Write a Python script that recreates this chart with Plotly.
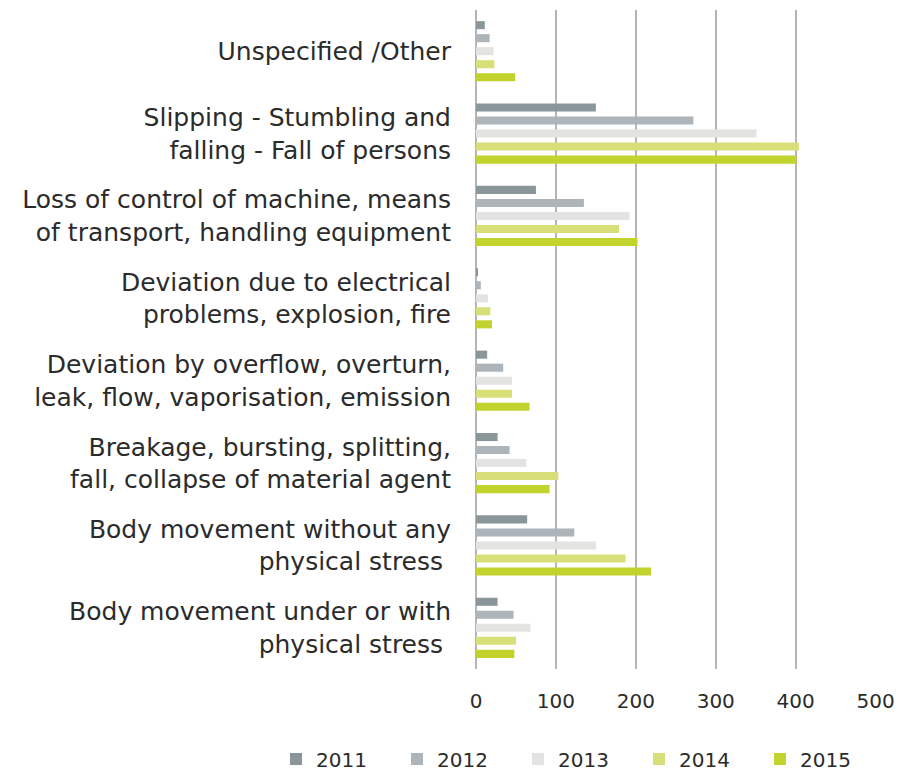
import plotly.graph_objects as go

categories = [
    "Unspecified /Other",
    "Slipping - Stumbling and<br>falling - Fall of persons",
    "Loss of control of machine, means<br>of transport, handling equipment",
    "Deviation due to electrical<br>problems, explosion, fire",
    "Deviation by overflow, overturn,<br>leak, flow, vaporisation, emission",
    "Breakage, bursting, splitting,<br>fall, collapse of material agent",
    "Body movement without any<br>physical stress ",
    "Body movement under or with<br>physical stress ",
]
years = ["2011", "2012", "2013", "2014", "2015"]
v2011 = [11, 150, 75, 2, 14, 27, 64, 27]
v2012 = [17, 272, 135, 6, 34, 42, 123, 47]
v2013 = [22, 351, 192, 15, 45, 63, 150, 68]
v2014 = [23, 404, 179, 18, 45, 103, 187, 50]
v2015 = [49, 401, 202, 20, 67, 92, 219, 48]
tick_vals = [0, 100, 200, 300, 400, 500]

series = [v2011, v2012, v2013, v2014, v2015]
colors = ["#8b969b", "#adb4ba", "#e3e3e1", "#d8df78", "#c2d32e"]

FONT = "DejaVu Sans"
# page body has an 8px margin; the figure is sized to fit the rest of the window
W, H = 894, 766
L, R, T, B = 468, 26, 2, 105
PW, PH = W - L - R, H - T - B

fig = go.Figure()
for name, vals, col in zip(years, series, colors):
    fig.add_trace(go.Bar(
        y=categories, x=vals, name=name, orientation="h",
        marker=dict(color=col, line=dict(width=0)),
    ))

fig.update_layout(
    width=W, height=H,
    paper_bgcolor="white", plot_bgcolor="white",
    margin=dict(l=L, r=R, t=T, b=B, autoexpand=False),
    barmode="group", bargap=0.21, bargroupgap=0.38,
    font=dict(family=FONT, size=20, color="#2b2b2b"),
    showlegend=True,
    legend=dict(
        orientation="h",
        x=(268 - L) / PW, xanchor="left",
        y=(H - B - 751) / PH, yanchor="middle",
        font=dict(size=20, color="#2b2b2b"), traceorder="normal",
        itemwidth=30, entrywidthmode="pixels", entrywidth=76,
        bgcolor="rgba(0,0,0,0)",
    ),
    xaxis=dict(
        range=[0, 500.5], tickvals=tick_vals, showgrid=True,
        gridcolor="#b5b5b5", gridwidth=1.5, zeroline=True,
        zerolinecolor="#b5b5b5", zerolinewidth=1.5,
        tickfont=dict(size=20, color="#2b2b2b"), ticks="", ticklen=0,
        showline=False, automargin=False, ticklabelstandoff=18,
    ),
    yaxis=dict(
        autorange="reversed", showgrid=False, ticks="", ticklen=0,
        tickfont=dict(size=25, color="#2b2b2b"), showline=False,
        ticklabelstandoff=24, automargin=False,
    ),
)

fig.write_html("out.html")
